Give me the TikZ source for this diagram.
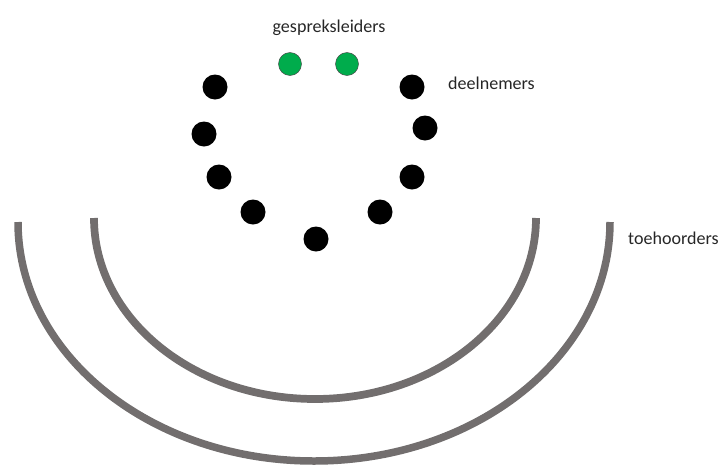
\documentclass[tikz,border=0pt]{standalone}
\usepackage{fontspec}
\setmainfont{Carlito}
\usepackage{tikz}
\usetikzlibrary{positioning}
\definecolor{zaalgrijs}{RGB}{114,110,110}
\definecolor{leidergroen}{RGB}{0,172,76}

\begin{document}
\begin{tikzpicture}[
    x=0.03cm, y=0.03cm,
    deelnemer/.style={circle, fill=black, inner sep=0pt, minimum size=0.75cm},
    leider/.style={circle, fill=leidergroen, draw=black!75, thin, inner sep=0pt, minimum size=0.69cm},
    label/.style={font=\fontsize{15.4}{18}\selectfont, text=black!85, inner sep=0pt}
]

% Kader
\useasboundingbox (0,0) rectangle (723,-468);

% Gespreksleiders
\node[leider] (g1) at (290,-64) {};
\node[leider] (g2) at (347,-64) {};
\node[label] (gl) at (329,-28) {gespreksleiders};

% Deelnemers
\node[deelnemer] (d1) at (215,-87) {};
\node[deelnemer] (d2) at (204,-134) {};
\node[deelnemer] (d3) at (219,-177) {};
\node[deelnemer] (d4) at (253,-212) {};
\node[deelnemer] (d5) at (316,-239) {};
\node[deelnemer] (d6) at (380,-212) {};
\node[deelnemer] (d7) at (412,-177) {};
\node[deelnemer] (d8) at (425,-128) {};
\node[deelnemer] (d9) at (412,-87) {};
\node[label, anchor=west] (dl) at (448,-83) {deelnemers};

% Toehoorders
\draw[
    line width=6.6pt,
    zaalgrijs
] (536,-218) arc[start angle=0, end angle=-180, x radius=221, y radius=181];
\draw[
    line width=6.4pt,
    zaalgrijs
] (610,-222) arc[start angle=0, end angle=-180, x radius=296, y radius=239];
\node[label, anchor=west] (tl) at (628,-238) {toehoorders};

\end{tikzpicture}
\end{document}
